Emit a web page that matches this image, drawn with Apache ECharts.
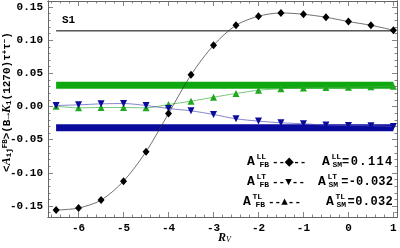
<!DOCTYPE html>
<html><head><meta charset="utf-8">
<script src="https://cdn.jsdelivr.net/npm/echarts@6/dist/echarts.min.js"></script>
<style>html,body{margin:0;padding:0;background:#fff}#c{width:400px;height:248px}</style>
</head><body><div id="c"></div>
<script>
var rv = [-6.5,-6,-5.5,-5,-4.5,-4,-3.5,-3,-2.5,-2,-1.5,-1,-0.5,0,0.5,1];
var aLL = [-0.156,-0.153,-0.141,-0.1125,-0.068,-0.0105,0.0477,0.0923,0.1224,0.136,0.141,0.139,0.1345,0.128,0.1224,0.115];
var aLT = [0.0015,0.0025,0.004,0.0045,0.0015,-0.003,-0.0065,-0.012,-0.0185,-0.022,-0.0245,-0.026,-0.028,-0.0286,-0.029,-0.030];
var aTL = [0.0005,-0.002,-0.0015,-0.0015,-0.002,0.003,0.008,0.014,0.0196,0.0245,0.0267,0.028,0.0286,0.029,0.0297,0.0306];
var smLL = 0.114, smLT = -0.032, smTL = 0.032;
var xTicks = [-6,-5,-4,-3,-2,-1,0,1];
var yTicks = [-0.15,-0.10,-0.05,0,0.05,0.10,0.15];
var xMin = -6.68, xMax = 1.08, yMin = -0.1665, yMax = 0.159;

var xMinor = []; for (var i = -33; i <= 5; i++) { var v = +(i*0.2).toFixed(2); if (Math.abs(v - Math.round(v)) > 1e-6) xMinor.push(v); }
var yMinor = []; for (var j = -16; j <= 15; j++) { if (j % 5 !== 0) yMinor.push(+(j*0.01).toFixed(2)); }

var FONT = 'Liberation Mono';
function pair(a,b){ return a.map(function(x,i){ return [x,b[i]]; }); }
function flat(v){ return [[rv[0],v],[rv[rv.length-1],v]]; }

function mkX(pos, vals, len, labels){
  return {type:'value', min:xMin, max:xMax, position:pos,
    axisLine:{show:true, onZero:false, lineStyle:{color:'#666', width:1}},
    axisTick:{show:true, inside:true, length:len, customValues:vals, lineStyle:{color:'#666', width:0.8}},
    axisLabel:{show:labels, customValues:vals, margin:6, color:'#000', fontFamily:FONT, fontWeight:'bold', fontSize:11,
      formatter:function(v){ return v<0 ? '-' + Math.abs(v) : String(v); }},
    splitLine:{show:false}};
}
function mkY(pos, vals, len, labels){
  return {type:'value', min:yMin, max:yMax, position:pos,
    axisLine:{show:true, onZero:false, lineStyle:{color:'#666', width:1}},
    axisTick:{show:true, inside:true, length:len, customValues:vals, lineStyle:{color:'#666', width:0.8}},
    axisLabel:{show:labels, customValues:vals, margin:5, color:'#000', fontFamily:FONT, fontWeight:'bold', fontSize:11,
      formatter:function(v){ return v.toFixed(2); }},
    splitLine:{show:false}};
}

var chart = echarts.init(document.getElementById('c'), null, {renderer:'canvas'});

var tb = {fontFamily:FONT, fontWeight:'bold', fill:'#000'};
function T(x,y,txt,size,extra){
  var s = Object.assign({}, tb, {x:x, y:y, text:txt, fontSize:size, verticalAlign:'middle'}, extra||{});
  return {type:'text', z:100, style:s};
}
function valTokens(str, w){
  var rich = {c:{width:w, align:'center', fontFamily:FONT, fontWeight:'bold', fontSize:12}};
  return {text: str.split('').map(function(ch){ return '{c|'+ch+'}'; }).join(''), rich: rich};
}
function legendRow(xA, y, sup, mark, xA2, valStr, w){
  var out = [];
  out.push(T(xA, y, 'A', 13));
  out.push(T(xA+9.5, y-5, sup, 8));
  out.push(T(xA+12.5, y+3, 'FB', 8));
  out.push(T(xA+25, y, '--'+mark+'--', 11));
  out.push(T(xA2, y, 'A', 13));
  out.push(T(xA2+9.5, y-5, sup, 8));
  out.push(T(xA2+10.5, y+3, 'SM', 8));
  var vt = valTokens(valStr, w);
  out.push({type:'text', z:100, style:{x:393, y:y, text:vt.text, rich:vt.rich, align:'right', verticalAlign:'middle', fill:'#000'}});
  return out;
}
var fmt = function(v){ return '=' + (v<0?'-':'') + Math.abs(v).toFixed(3); };
var graphics = [];
graphics = graphics.concat(legendRow(247, 162, 'LL', '\u25C6', 322, fmt(smLL), 8.6));
graphics = graphics.concat(legendRow(247, 182, 'LT', '\u25BC', 318, fmt(smLT), 7.4));
graphics = graphics.concat(legendRow(243, 202, 'TL', '\u25B2', 326, fmt(smTL), 7.6));
graphics.push(T(62, 20, 'S1', 11));
graphics.push({type:'text', z:100, style:{x:218, y:238, verticalAlign:'middle',
  text:'{r|R}{s|V}', rich:{r:{fontFamily:'Liberation Serif', fontStyle:'italic', fontWeight:'bold', fontSize:12, fill:'#000'},
  s:{fontFamily:'Liberation Serif', fontStyle:'italic', fontSize:8, fill:'#000', verticalAlign:'bottom', padding:[4,0,0,0]}}}});
graphics.push({type:'text', z:100, x:7, y:102, rotation:Math.PI/2,
  style:{x:0, y:0, align:'center', verticalAlign:'middle',
  text:'{m|<}{a|A}{s|ij}{p|FB}{m|>(B\u2192}{a|K}{s|1}{m|(1270)\u03C4}{p|+}{m|\u03C4}{p|\u2212}{m|)}',
  rich:{m:{fontFamily:FONT, fontWeight:'bold', fontSize:11, fill:'#000'},
        a:{fontFamily:'Liberation Serif', fontStyle:'italic', fontWeight:'bold', fontSize:12, fill:'#000'},
        s:{fontFamily:FONT, fontWeight:'bold', fontSize:7.5, fill:'#000', verticalAlign:'bottom', padding:[4,0,0,0]},
        p:{fontFamily:FONT, fontWeight:'bold', fontSize:7.5, fill:'#000', verticalAlign:'top', padding:[0,0,4,0]}}}});

chart.setOption({
  animation:false,
  backgroundColor:'#fff',
  grid:{left:48, right:3, top:1, bottom:31, containLabel:false},
  xAxis:[mkX('bottom', xTicks, 5, true), mkX('bottom', xMinor, 2.5, false), mkX('top', xTicks, 5, false), mkX('top', xMinor, 2.5, false)],
  yAxis:[mkY('left', yTicks, 5, true), mkY('left', yMinor, 2.5, false), mkY('right', yTicks, 5, false), mkY('right', yMinor, 2.5, false)],
  series:[
    {type:'line', data:flat(smLL), symbol:'none', lineStyle:{color:'#000', width:1}, z:2},
    {type:'line', data:flat(smTL), symbol:'none', lineStyle:{color:'#10a810', width:7, cap:'butt'}, z:2},
    {type:'line', data:flat(smLT), symbol:'none', lineStyle:{color:'#0a0a9c', width:7, cap:'butt'}, z:2},
    {type:'line', data:pair(rv,aTL), smooth:0.3, symbol:'triangle', symbolSize:7, itemStyle:{color:'#20a820'}, lineStyle:{color:'#40b040', width:0.7}, z:3},
    {type:'line', data:pair(rv,aLT), smooth:0.3, symbol:'triangle', symbolRotate:180, symbolSize:7, itemStyle:{color:'#0a0a9c'}, lineStyle:{color:'#5050c0', width:0.7}, z:3},
    {type:'line', data:pair(rv,aLL), smooth:0.3, symbol:'diamond', symbolSize:[7,8], itemStyle:{color:'#000'}, lineStyle:{color:'#333', width:0.7}, z:4}
  ],
  graphic: graphics
});
</script></body></html>
